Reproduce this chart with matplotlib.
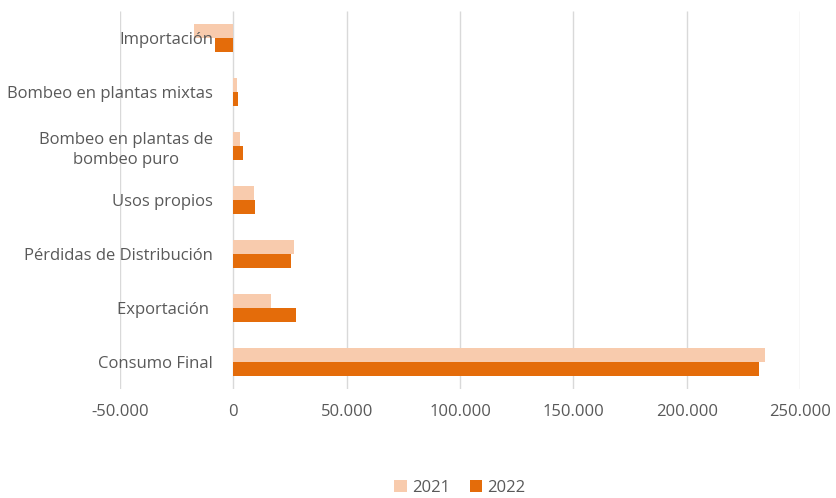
import numpy as np
import matplotlib
matplotlib.use("Agg")
import matplotlib.pyplot as plt
from matplotlib.ticker import FuncFormatter

plt.rcParams['font.family'] = ['Open Sans', 'DejaVu Sans']

# balance electrico (MWh) por concepto
categorias = ["Importación", "Bombeo en plantas mixtas", "Bombeo en plantas de\nbombeo puro",
              "Usos propios", "Pérdidas de Distribución", "Exportación ", "Consumo Final"]
valores_2021 = [-17400, 1500, 3100, 9300, 26600, 16600, 234700]
valores_2022 = [-8100, 2100, 4400, 9400, 25500, 27700, 232100]
ticks_x = [-50000, 0, 50000, 100000, 150000, 200000, 250000]

col_2021 = "#F8CBAD"
col_2022 = "#E46C0A"
gris = "#595959"

fig, ax = plt.subplots(figsize=(8.36, 4.98), dpi=100)
fig.subplots_adjust(left=0.1435, right=0.957, top=0.978, bottom=0.219)

y = np.arange(len(categorias))
h = 0.26
ax.barh(y - h/2, valores_2021, height=h, color=col_2021, label="2021", zorder=2)
ax.barh(y + h/2, valores_2022, height=h, color=col_2022, label="2022", zorder=2)

ax.set_xlim(ticks_x[0], ticks_x[-1])
ax.set_ylim(len(categorias) - 0.5, -0.5)
ax.set_xticks(ticks_x)
ax.xaxis.set_major_formatter(FuncFormatter(lambda v, p: f"{v:,.0f}".replace(",", ".")))
# lineas de rejilla por debajo de las barras, etiquetas por encima
ax.vlines(ticks_x, -0.5, len(categorias) - 0.5, color="#D9D9D9", lw=1, zorder=0)
ax.set_axisbelow(False)

# etiquetas de categoria junto al eje en cero
ax.spines['left'].set_position(('data', 0))
for s in ['left', 'right', 'top', 'bottom']:
    ax.spines[s].set_visible(False)
ax.set_yticks(y)
ax.set_yticklabels(categorias)
for t in ax.get_yticklabels():
    t.set_multialignment('center')
    t.set_linespacing(1.3)
ax.tick_params(axis='y', length=0, pad=14.5, labelsize=12, labelcolor=gris)
ax.tick_params(axis='x', length=0, pad=11, labelsize=12, labelcolor=gris)

leg = ax.legend(loc='upper center', bbox_to_anchor=(0.5, -0.2), ncol=2, frameon=False,
                fontsize=12, handlelength=0.75, handleheight=0.75, handletextpad=0.3,
                columnspacing=1.2)
for t in leg.get_texts():
    t.set_color(gris)

plt.savefig("out.png", dpi=100)
